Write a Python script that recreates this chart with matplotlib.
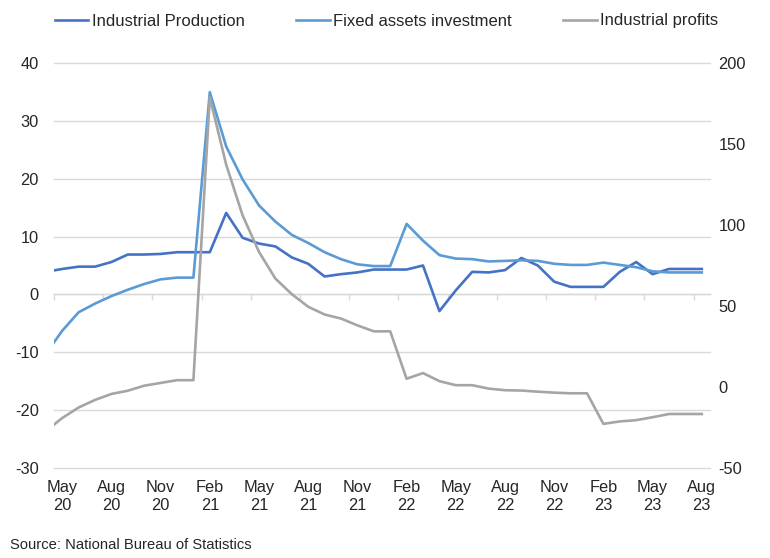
import matplotlib
matplotlib.use("Agg")
import matplotlib.pyplot as plt
import numpy as np

plt.rcParams['font.family'] = ['Liberation Sans', 'DejaVu Sans']
plt.rcParams['axes.unicode_minus'] = False

# Months: Apr 2020 (clipped at left edge) to Aug 2023
months = ["Apr 20", "May 20", "Jun 20", "Jul 20", "Aug 20", "Sep 20", "Oct 20", "Nov 20", "Dec 20",
          "Jan 21", "Feb 21", "Mar 21", "Apr 21", "May 21", "Jun 21", "Jul 21", "Aug 21", "Sep 21",
          "Oct 21", "Nov 21", "Dec 21", "Jan 22", "Feb 22", "Mar 22", "Apr 22", "May 22", "Jun 22",
          "Jul 22", "Aug 22", "Sep 22", "Oct 22", "Nov 22", "Dec 22", "Jan 23", "Feb 23", "Mar 23",
          "Apr 23", "May 23", "Jun 23", "Jul 23", "Aug 23"]

industrial_production = [3.9, 4.4, 4.8, 4.8, 5.6, 6.9, 6.9, 7.0, 7.3,
                         7.3, 7.3, 14.1, 9.8, 8.8, 8.3, 6.4, 5.3, 3.1,
                         3.5, 3.8, 4.3, 4.3, 4.3, 5.0, -2.9, 0.7, 3.9,
                         3.8, 4.2, 6.3, 5.0, 2.2, 1.3, 1.3, 1.3, 3.9,
                         5.6, 3.5, 4.4, 4.4, 4.4]

fixed_assets_investment = [-10.3, -6.3, -3.1, -1.6, -0.3, 0.8, 1.8, 2.6, 2.9,
                           2.9, 35.0, 25.6, 19.9, 15.4, 12.6, 10.3, 8.9, 7.3,
                           6.1, 5.2, 4.9, 4.9, 12.2, 9.3, 6.8, 6.2, 6.1,
                           5.7, 5.8, 5.9, 5.8, 5.3, 5.1, 5.1, 5.5, 5.1,
                           4.7, 4.0, 3.8, 3.8, 3.8]

industrial_profits = [-27.4, -19.3, -12.8, -8.1, -4.4, -2.4, 0.7, 2.4, 4.1,
                      4.1, 178.9, 137.3, 106.0, 83.4, 66.9, 57.3, 49.5, 44.7,
                      42.2, 38.0, 34.3, 34.3, 5.0, 8.5, 3.5, 1.0, 1.0,
                      -1.1, -2.1, -2.3, -3.0, -3.6, -4.0, -4.0, -22.9, -21.4,
                      -20.6, -18.8, -16.8, -16.8, -16.8]

left_ticks = [-30, -20, -10, 0, 10, 20, 30, 40]
right_ticks = [-50, 0, 50, 100, 150, 200]
series_names = ["Industrial Production", "Fixed assets investment", "Industrial profits"]
source_text = "Source: National Bureau of Statistics"

# x positions: index 0 = May 20
x = np.arange(len(months)) - 1
label_idx = np.arange(0, 40, 3)
label_texts = [months[i + 1].replace(" ", "\n") for i in label_idx]

C_IP = "#4472C4"
C_FAI = "#5B9BD5"
C_PROF = "#A5A5A5"
GRID = "#D9D9D9"
TXT = "#262626"

fig = plt.figure(figsize=(7.7, 5.58), dpi=100)
ax = fig.add_axes([54 / 770, 1 - 467.7 / 558, (710 - 54) / 770, (467.7 - 63.3) / 558])
ax.set_xlim(-0.5, 39.5)
ax.set_ylim(-30, 40)
ax.set_yticks(left_ticks)
ax.grid(axis='y', color=GRID, lw=1.0)
for gl in ax.get_ygridlines():
    gl.set_clip_on(False)
ax.set_axisbelow(True)
for s in ax.spines.values():
    s.set_visible(False)
ax.tick_params(axis='y', length=0, pad=11, labelsize=11.8, labelcolor=TXT)
ax.set_xticks(label_idx)
ax.set_xticklabels(label_texts, linespacing=1.25)
ax.tick_params(axis='x', length=0, pad=9, labelsize=11.8, labelcolor=TXT)

# axis line at zero with tick marks between categories
sec = ax.secondary_xaxis(30 / 70)
sec.set_xticks(np.arange(-0.5, 39.5, 3))
sec.set_xticklabels([])
sec.spines['bottom'].set_color(GRID)
sec.spines['bottom'].set_linewidth(1.0)
sec.tick_params(axis='x', direction='out', length=4.5, width=1.0, color=GRID)

l1, = ax.plot(x, industrial_production, color=C_IP, lw=1.9, solid_joinstyle='round',
              label=series_names[0])
l2, = ax.plot(x, fixed_assets_investment, color=C_FAI, lw=1.9, solid_joinstyle='round',
              label=series_names[1])

ax2 = ax.twinx()
ax2.set_ylim(-50, 200)
ax2.set_yticks(right_ticks)
for s in ax2.spines.values():
    s.set_visible(False)
ax2.tick_params(axis='y', length=0, pad=6, labelsize=11.8, labelcolor=TXT)
l3, = ax2.plot(x, industrial_profits, color=C_PROF, lw=1.9, solid_joinstyle='round',
               label=series_names[2])

fig.legend(handles=[l1, l2, l3], loc='center', bbox_to_anchor=(386.5 / 770, 1 - 21 / 558),
           ncol=3, frameon=False, fontsize=12, handlelength=2.0, handletextpad=0.2,
           columnspacing=3.1, labelcolor=TXT)

fig.text(10 / 770, 1 - 545 / 558, source_text, fontsize=10.6, color=TXT, va='center', ha='left')

fig.savefig("out.png", dpi=100)
